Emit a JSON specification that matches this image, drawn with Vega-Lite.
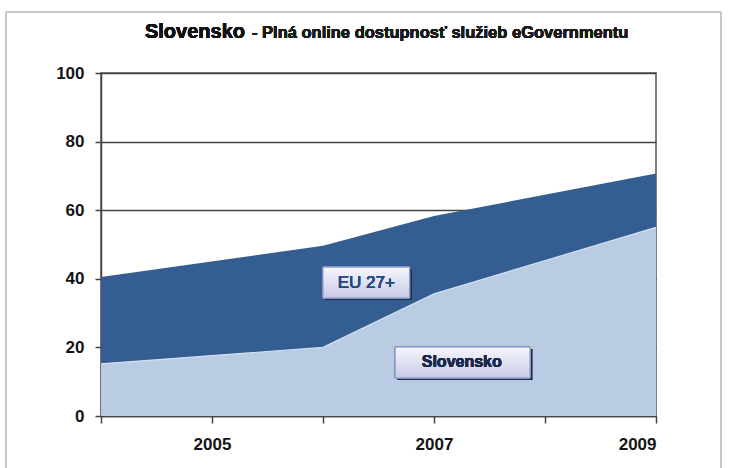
{
  "$schema": "https://vega.github.io/schema/vega-lite/v6.json",
  "autosize": {"type": "none"},
  "padding": {"left": 101, "top": 73, "right": 73, "bottom": 52},
  "width": 555,
  "height": 343,
  "background": "white",
  "config": {
    "view": {"stroke": "#555555", "strokeWidth": 1.5},
    "font": "Liberation Sans",
    "axisX": {
      "grid": false,
      "tickSize": 7,
      "tickColor": "#444444",
      "tickWidth": 1.5,
      "domainColor": "#444444",
      "domainWidth": 1.5,
      "labelFont": "Liberation Sans",
      "labelFontSize": 17,
      "labelFontWeight": "bold",
      "labelColor": "#151515",
      "labelPadding": 13,
      "title": null
    },
    "axisY": {
      "grid": true,
      "gridColor": "#444444",
      "gridWidth": 1.5,
      "tickSize": 6,
      "tickColor": "#444444",
      "tickWidth": 1.5,
      "domainColor": "#444444",
      "domainWidth": 1.5,
      "labelFont": "Liberation Sans",
      "labelFontSize": 17,
      "labelFontWeight": "bold",
      "labelColor": "#151515",
      "labelPadding": 11,
      "title": null
    }
  },
  "data": {
    "values": [
      {"year": 2004, "series": "EU 27+", "value": 40.5},
      {"year": 2006, "series": "EU 27+", "value": 49.6},
      {"year": 2007, "series": "EU 27+", "value": 58.3},
      {"year": 2009, "series": "EU 27+", "value": 70.7},
      {"year": 2004, "series": "Slovensko", "value": 15.2},
      {"year": 2006, "series": "Slovensko", "value": 20.0},
      {"year": 2007, "series": "Slovensko", "value": 35.6},
      {"year": 2009, "series": "Slovensko", "value": 55.0}
    ]
  },
  "layer": [
    {
      "transform": [{"filter": "datum.series == 'EU 27+'"}],
      "mark": {"type": "area", "color": "#345d91", "opacity": 1},
      "encoding": {
        "x": {"field": "year", "type": "quantitative",
          "scale": {"domain": [2004, 2009], "nice": false, "zero": false},
          "axis": {"values": [2004, 2005, 2006, 2007, 2008, 2009], "format": "d",
            "labelExpr": "datum.value % 2 == 1 ? datum.label : ''"}},
        "y": {"field": "value", "type": "quantitative",
          "scale": {"domain": [0, 100], "nice": false},
          "axis": {"values": [0, 20, 40, 60, 80, 100]}}
      }
    },
    {
      "transform": [{"filter": "datum.series == 'Slovensko'"}],
      "mark": {"type": "area", "color": "#b9cce4", "opacity": 1},
      "encoding": {
        "x": {"field": "year", "type": "quantitative"},
        "y": {"field": "value", "type": "quantitative"}
      }
    },
    {
      "transform": [{"filter": "datum.series == 'Slovensko'"}],
      "mark": {"type": "line", "color": "#d3e0ef", "strokeWidth": 1.2},
      "encoding": {
        "x": {"field": "year", "type": "quantitative"},
        "y": {"field": "value", "type": "quantitative"}
      }
    },
    {
      "mark": {"type": "rect", "fill": "#1c2c4c", "opacity": 0.45},
      "encoding": {
        "x": {"datum": 2006.02, "type": "quantitative"},
        "x2": {"datum": 2006.8},
        "y": {"datum": 42.8, "type": "quantitative"},
        "y2": {"datum": 33.8}
      }
    },
    {
      "mark": {"type": "rect", "stroke": "#8a93c2", "strokeWidth": 1,
        "fill": {"gradient": "linear", "x1": 0, "y1": 0, "x2": 0, "y2": 1,
          "stops": [{"offset": 0, "color": "#f6f6fc"}, {"offset": 1, "color": "#c8cae6"}]}},
      "encoding": {
        "x": {"datum": 2006.0, "type": "quantitative"},
        "x2": {"datum": 2006.78},
        "y": {"datum": 43.4, "type": "quantitative"},
        "y2": {"datum": 34.4}
      }
    },
    {
      "mark": {"type": "text", "text": "EU 27+", "align": "center", "baseline": "middle", "fontSize": 17, "font": "Liberation Sans", "color": "#2b4a82"},
      "encoding": {
        "x": {"datum": 2006.39, "type": "quantitative"},
        "y": {"datum": 38.9, "type": "quantitative"}
      }
    },
    {
      "mark": {"type": "rect", "fill": "#1c2c4c", "opacity": 0.45},
      "encoding": {
        "x": {"datum": 2006.67, "type": "quantitative"},
        "x2": {"datum": 2007.885},
        "y": {"datum": 19.5, "type": "quantitative"},
        "y2": {"datum": 10.5}
      }
    },
    {
      "mark": {"type": "rect", "stroke": "#8a93c2", "strokeWidth": 1,
        "fill": {"gradient": "linear", "x1": 0, "y1": 0, "x2": 0, "y2": 1,
          "stops": [{"offset": 0, "color": "#f6f6fc"}, {"offset": 1, "color": "#c8cae6"}]}},
      "encoding": {
        "x": {"datum": 2006.65, "type": "quantitative"},
        "x2": {"datum": 2007.865},
        "y": {"datum": 20.1, "type": "quantitative"},
        "y2": {"datum": 11.1}
      }
    },
    {
      "mark": {"type": "text", "text": "Slovensko", "align": "center", "baseline": "middle", "fontSize": 16, "fontWeight": "bold", "font": "Liberation Sans", "color": "#1b2a4c"},
      "encoding": {
        "x": {"datum": 2007.25, "type": "quantitative"},
        "y": {"datum": 15.6, "type": "quantitative"}
      }
    },
    {
      "mark": {"type": "text", "text": "Slovensko", "align": "left", "baseline": "alphabetic", "fontSize": 20, "fontWeight": "bold", "font": "Liberation Sans", "color": "#111111"},
      "encoding": {
        "x": {"datum": 2004.396, "type": "quantitative"},
        "y": {"datum": 110.2, "type": "quantitative"}
      }
    },
    {
      "mark": {"type": "text", "text": "- Plná online dostupnosť služieb eGovernmentu", "align": "left", "baseline": "alphabetic", "fontSize": 16.5, "fontWeight": "bold", "font": "Liberation Sans", "color": "#1a1a1a"},
      "encoding": {
        "x": {"datum": 2005.36, "type": "quantitative"},
        "y": {"datum": 110.2, "type": "quantitative"}
      }
    },
    {
      "mark": {"type": "rect", "fill": null, "stroke": "#c8c8c8", "strokeWidth": 1},
      "encoding": {
        "x": {"datum": 2003.144, "type": "quantitative"},
        "x2": {"datum": 2009.586},
        "y": {"datum": 117.8, "type": "quantitative"},
        "y2": {"datum": -20}
      }
    }
  ]
}
